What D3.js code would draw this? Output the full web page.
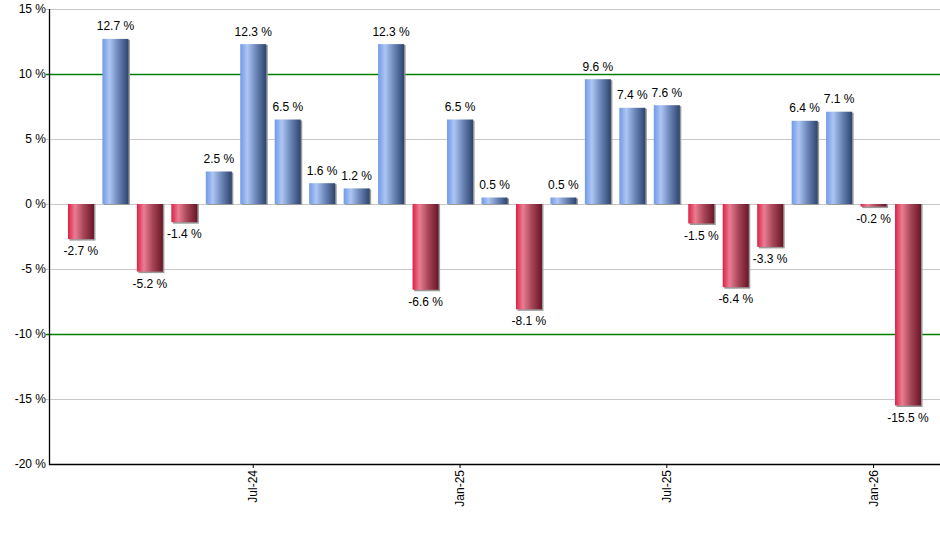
<!DOCTYPE html>
<html>
<head>
<meta charset="utf-8">
<script src="https://cdn.jsdelivr.net/npm/d3@7"></script>
<style>
  body { margin: 0; background: #fff; }
  text { font-family: "Liberation Sans", Arial, sans-serif; }
</style>
</head>
<body>
<svg id="chart" width="940" height="550"></svg>
<script>
// monthly returns, Feb-24 .. Feb-26
const months = ['Feb-24', 'Mar-24', 'Apr-24', 'May-24', 'Jun-24', 'Jul-24', 'Aug-24', 'Sep-24', 'Oct-24',
    'Nov-24', 'Dec-24', 'Jan-25', 'Feb-25', 'Mar-25', 'Apr-25', 'May-25', 'Jun-25', 'Jul-25', 'Aug-25',
    'Sep-25', 'Oct-25', 'Nov-25', 'Dec-25', 'Jan-26', 'Feb-26'];
const returns = [-2.7, 12.7, -5.2, -1.4, 2.5, 12.3, 6.5, 1.6, 1.2, 12.3, -6.6, 6.5, 0.5, -8.1, 0.5,
    9.6, 7.4, 7.6, -1.5, -6.4, -3.3, 6.4, 7.1, -0.2, -15.5];
const xTicks = ['Jul-24', 'Jan-25', 'Jul-25', 'Jan-26'];
const yTicks = [15, 10, 5, 0, -5, -10, -15, -20];
const greenLines = [10, -10];

const svg = d3.select('#chart');
const plotLeft = 49, plotRight = 940, plotTop = 9, plotBottom = 464;

let x = d3.scaleBand()
    .domain(months)
    .range([plotLeft, plotRight])
    .paddingInner(0.245)
    .paddingOuter(0.55);

let y = d3.scaleLinear()
    .domain([-20, 15])
    .range([plotBottom, plotTop]);

// gradients
let defs = svg.append('defs');
function makeGrad(id, stops) {
    let g = defs.append('linearGradient').attr('id', id)
        .attr('x1', '0%').attr('x2', '100%').attr('y1', '0%').attr('y2', '0%');
    stops.forEach(s => g.append('stop').attr('offset', s[0]).attr('stop-color', s[1]));
}
makeGrad('gBlue', [[0, '#7099e6'], [0.27, '#adc6f4'], [0.6, '#6c87b9'], [1, '#2e446e']]);
makeGrad('gRed', [[0, '#dc2146'], [0.27, '#ea7d92'], [0.6, '#a84658'], [1, '#691626']]);

// grid
svg.append('g')
    .selectAll('line')
    .data(yTicks.filter(d => d !== -20))
    .join('line')
    .attr('x1', plotLeft - 3).attr('x2', plotRight)
    .attr('y1', d => y(d) + 0.5).attr('y2', d => y(d) + 0.5)
    .attr('stroke', d => greenLines.includes(d) ? '#008000' : '#c8c8c8')
    .attr('stroke-width', d => greenLines.includes(d) ? 1.3 : 1);

// y labels
svg.append('g')
    .selectAll('text')
    .data(yTicks)
    .join('text')
    .attr('x', plotLeft - 3)
    .attr('y', d => y(d))
    .attr('dy', '0.35em')
    .attr('text-anchor', 'end')
    .attr('font-size', 12)
    .attr('fill', '#000')
    .text(d => `${d} %`);

let data = months.map((m, i) => ({ month: m, value: returns[i] }));

// bars with shadow
let bars = svg.append('g');
bars.selectAll('.shadow')
    .data(data)
    .join('rect')
    .attr('class', 'shadow')
    .attr('x', d => x(d.month) + 1.5)
    .attr('y', d => d.value >= 0 ? y(d.value) + 1 : y(0))
    .attr('width', x.bandwidth())
    .attr('height', d => Math.abs(y(d.value) - y(0)) + (d.value >= 0 ? 0 : 1.5))
    .attr('fill', '#9a9a9a');

bars.selectAll('.bar')
    .data(data)
    .join('rect')
    .attr('class', 'bar')
    .attr('x', d => x(d.month))
    .attr('y', d => d.value >= 0 ? y(d.value) : y(0))
    .attr('width', x.bandwidth())
    .attr('height', d => Math.abs(y(d.value) - y(0)))
    .attr('fill', d => d.value >= 0 ? 'url(#gBlue)' : 'url(#gRed)');

// value labels
svg.append('g')
    .selectAll('text')
    .data(data)
    .join('text')
    .attr('x', d => x(d.month) + x.bandwidth() / 2)
    .attr('y', d => d.value >= 0 ? y(d.value) - 8.5 : y(d.value) + 16)
    .attr('text-anchor', 'middle')
    .attr('font-size', 12)
    .attr('fill', '#000')
    .text(d => `${d.value.toFixed(1)} %`);

// axes lines
svg.append('line')
    .attr('x1', plotLeft + 0.5).attr('x2', plotLeft + 0.5)
    .attr('y1', plotTop).attr('y2', plotBottom + 1)
    .attr('stroke', '#000').attr('stroke-width', 1.3);
svg.append('line')
    .attr('x1', plotLeft).attr('x2', plotRight)
    .attr('y1', plotBottom + 0.5).attr('y2', plotBottom + 0.5)
    .attr('stroke', '#000').attr('stroke-width', 1.3);

// x ticks
let xt = svg.append('g')
    .selectAll('g')
    .data(xTicks)
    .join('g')
    .attr('transform', d => `translate(${x(d) + x.bandwidth() / 2}, ${plotBottom})`);
xt.append('line')
    .attr('y1', 0).attr('y2', 4)
    .attr('stroke', '#000');
xt.append('text')
    .attr('transform', 'rotate(-90)')
    .attr('x', -6)
    .attr('dy', '0.35em')
    .attr('text-anchor', 'end')
    .attr('font-size', 12)
    .attr('fill', '#000')
    .text(d => d);
</script>
</body>
</html>
